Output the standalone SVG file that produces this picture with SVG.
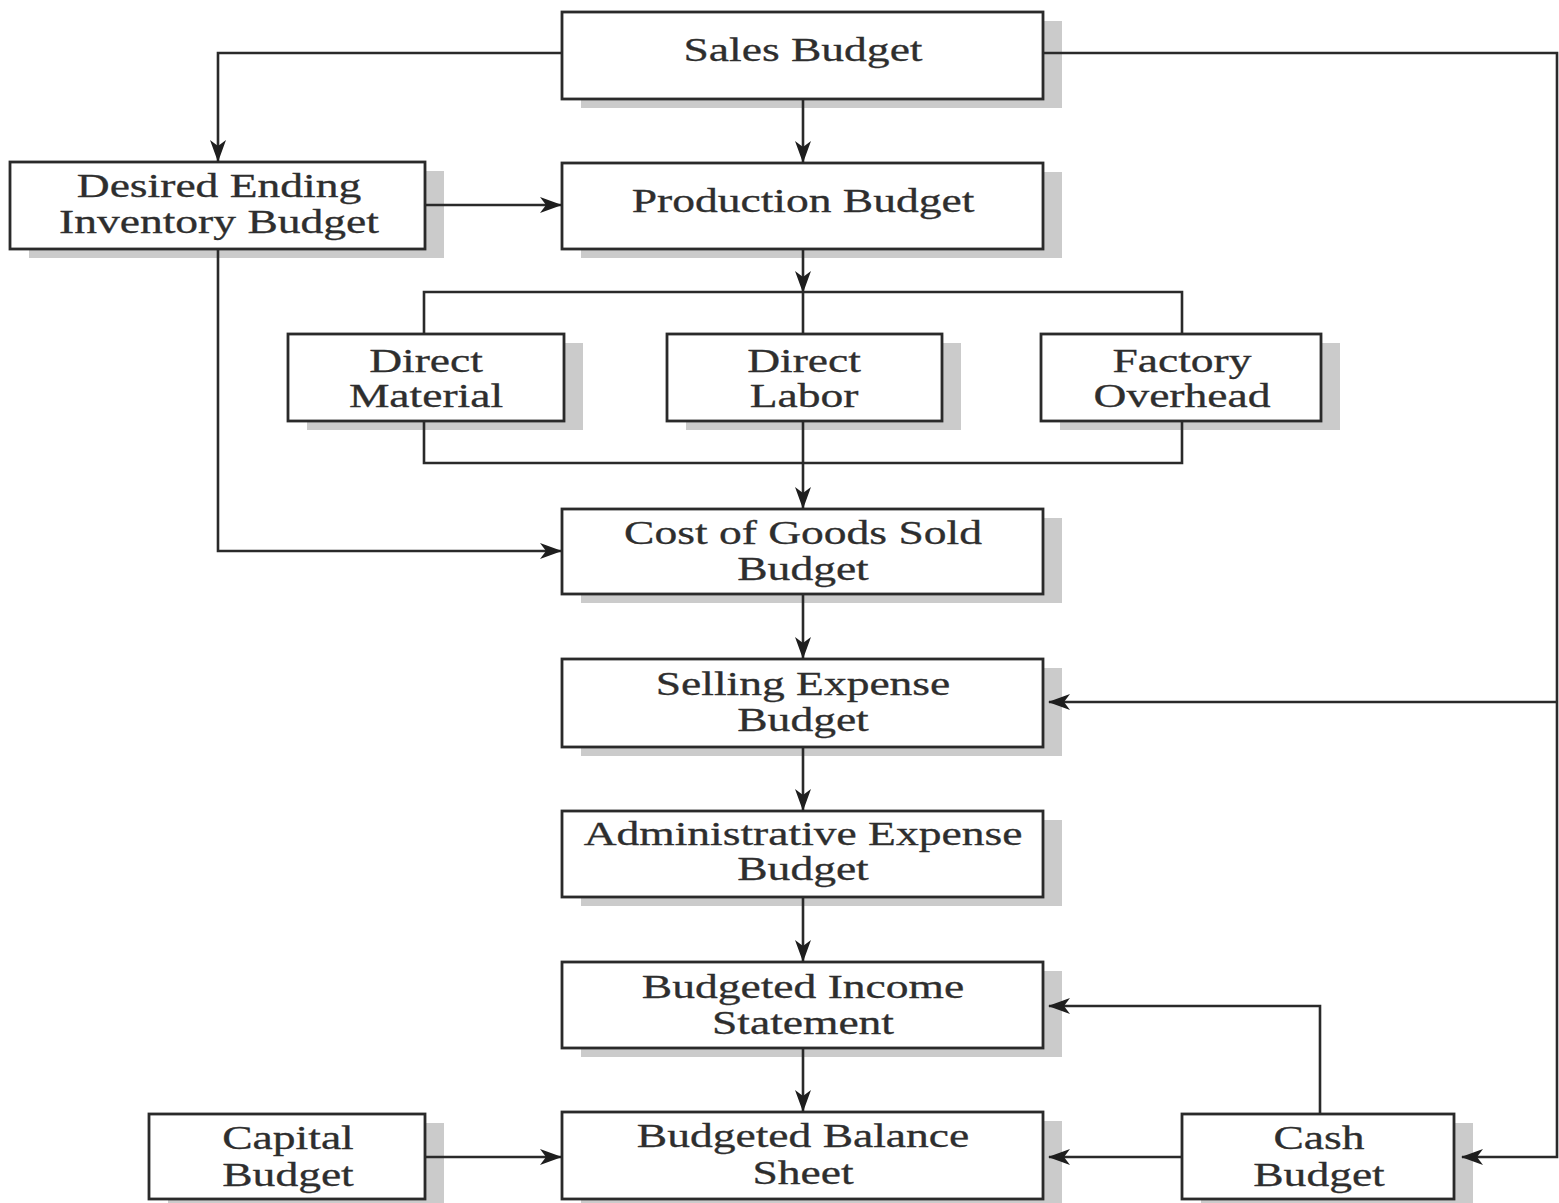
<svg xmlns="http://www.w3.org/2000/svg" width="1559" height="1203" viewBox="0 0 1559 1203">
<style>
.sh{fill:#cbcbcb;stroke:none}
.bx{fill:#fff;stroke:#2a2a2a;stroke-width:2.8}
.t{font-family:"Liberation Serif","Times New Roman",serif;font-size:33px;fill:#2e2e2e;stroke:#2e2e2e;stroke-width:0.3;text-anchor:middle}
.c{fill:none;stroke:#2a2a2a;stroke-width:2.6}
</style>
<defs>
<marker id="ah" viewBox="0 0 22 16" refX="21" refY="8" markerWidth="22" markerHeight="16" orient="auto" markerUnits="userSpaceOnUse">
<path d="M0,0 L22,8 L0,16 L6,8 Z" fill="#1e1e1e"/>
</marker>
</defs>
<rect width="1559" height="1203" fill="#fff"/>

<g id="sales">
<rect class="sh" x="581" y="21" width="481" height="87"/>
<rect class="bx" x="562" y="12" width="481" height="87"/>
<text class="t" transform="translate(803,61) scale(1.38,1)">Sales Budget</text>
</g>
<g id="desired-ending-inventory">
<rect class="sh" x="29" y="171" width="415" height="87"/>
<rect class="bx" x="10" y="162" width="415" height="87"/>
<text class="t" transform="translate(219,197) scale(1.38,1)">Desired Ending</text>
<text class="t" transform="translate(219,233) scale(1.38,1)">Inventory Budget</text>
</g>
<g id="production">
<rect class="sh" x="581" y="172" width="481" height="86"/>
<rect class="bx" x="562" y="163" width="481" height="86"/>
<text class="t" transform="translate(803,212) scale(1.38,1)">Production Budget</text>
</g>
<g id="direct-material">
<rect class="sh" x="307" y="343" width="276" height="87"/>
<rect class="bx" x="288" y="334" width="276" height="87"/>
<text class="t" transform="translate(426,372) scale(1.38,1)">Direct</text>
<text class="t" transform="translate(426,407) scale(1.38,1)">Material</text>
</g>
<g id="direct-labor">
<rect class="sh" x="686" y="343" width="275" height="87"/>
<rect class="bx" x="667" y="334" width="275" height="87"/>
<text class="t" transform="translate(804,372) scale(1.38,1)">Direct</text>
<text class="t" transform="translate(804,407) scale(1.38,1)">Labor</text>
</g>
<g id="factory-overhead">
<rect class="sh" x="1060" y="343" width="280" height="87"/>
<rect class="bx" x="1041" y="334" width="280" height="87"/>
<text class="t" transform="translate(1182,372) scale(1.38,1)">Factory</text>
<text class="t" transform="translate(1182,407) scale(1.38,1)">Overhead</text>
</g>
<g id="cost-of-goods-sold">
<rect class="sh" x="581" y="518" width="481" height="85"/>
<rect class="bx" x="562" y="509" width="481" height="85"/>
<text class="t" transform="translate(803,544) scale(1.38,1)">Cost of Goods Sold</text>
<text class="t" transform="translate(803,580) scale(1.38,1)">Budget</text>
</g>
<g id="selling-expense">
<rect class="sh" x="581" y="668" width="481" height="88"/>
<rect class="bx" x="562" y="659" width="481" height="88"/>
<text class="t" transform="translate(803,695) scale(1.38,1)">Selling Expense</text>
<text class="t" transform="translate(803,731) scale(1.38,1)">Budget</text>
</g>
<g id="administrative-expense">
<rect class="sh" x="581" y="820" width="481" height="86"/>
<rect class="bx" x="562" y="811" width="481" height="86"/>
<text class="t" transform="translate(803,845) scale(1.38,1)">Administrative Expense</text>
<text class="t" transform="translate(803,880) scale(1.38,1)">Budget</text>
</g>
<g id="budgeted-income-statement">
<rect class="sh" x="581" y="971" width="481" height="86"/>
<rect class="bx" x="562" y="962" width="481" height="86"/>
<text class="t" transform="translate(803,998) scale(1.38,1)">Budgeted Income</text>
<text class="t" transform="translate(803,1034) scale(1.38,1)">Statement</text>
</g>
<g id="capital-budget">
<rect class="sh" x="168" y="1123" width="276" height="85"/>
<rect class="bx" x="149" y="1114" width="276" height="85"/>
<text class="t" transform="translate(288,1149) scale(1.38,1)">Capital</text>
<text class="t" transform="translate(288,1186) scale(1.38,1)">Budget</text>
</g>
<g id="budgeted-balance-sheet">
<rect class="sh" x="581" y="1121" width="481" height="87"/>
<rect class="bx" x="562" y="1112" width="481" height="87"/>
<text class="t" transform="translate(803,1147) scale(1.38,1)">Budgeted Balance</text>
<text class="t" transform="translate(803,1184) scale(1.38,1)">Sheet</text>
</g>
<g id="cash-budget">
<rect class="sh" x="1201" y="1123" width="272" height="85"/>
<rect class="bx" x="1182" y="1114" width="272" height="85"/>
<text class="t" transform="translate(1319,1149) scale(1.38,1)">Cash</text>
<text class="t" transform="translate(1319,1186) scale(1.38,1)">Budget</text>
</g>

<g id="connectors">
<path class="c" d="M562,53 H218 V161" marker-end="url(#ah)"/>
<path class="c" d="M803,99 V162" marker-end="url(#ah)"/>
<path class="c" d="M425,205 H561" marker-end="url(#ah)"/>
<path class="c" d="M803,249 V292" marker-end="url(#ah)"/>
<path class="c" d="M424,334 V292 H1182 V334 M803,292 V334"/>
<path class="c" d="M424,421 V463 H1182 V421"/>
<path class="c" d="M803,421 V508" marker-end="url(#ah)"/>
<path class="c" d="M218,249 V551 H561" marker-end="url(#ah)"/>
<path class="c" d="M803,594 V658" marker-end="url(#ah)"/>
<path class="c" d="M803,747 V810" marker-end="url(#ah)"/>
<path class="c" d="M803,897 V961" marker-end="url(#ah)"/>
<path class="c" d="M803,1048 V1111" marker-end="url(#ah)"/>
<path class="c" d="M425,1157 H561" marker-end="url(#ah)"/>
<path class="c" d="M1182,1157 H1049" marker-end="url(#ah)"/>
<path class="c" d="M1320,1114 V1006 H1049" marker-end="url(#ah)"/>
<path class="c" d="M1043,53 H1557 V1157 H1462" marker-end="url(#ah)"/>
<path class="c" d="M1557,702 H1049" marker-end="url(#ah)"/>
</g>
</svg>
